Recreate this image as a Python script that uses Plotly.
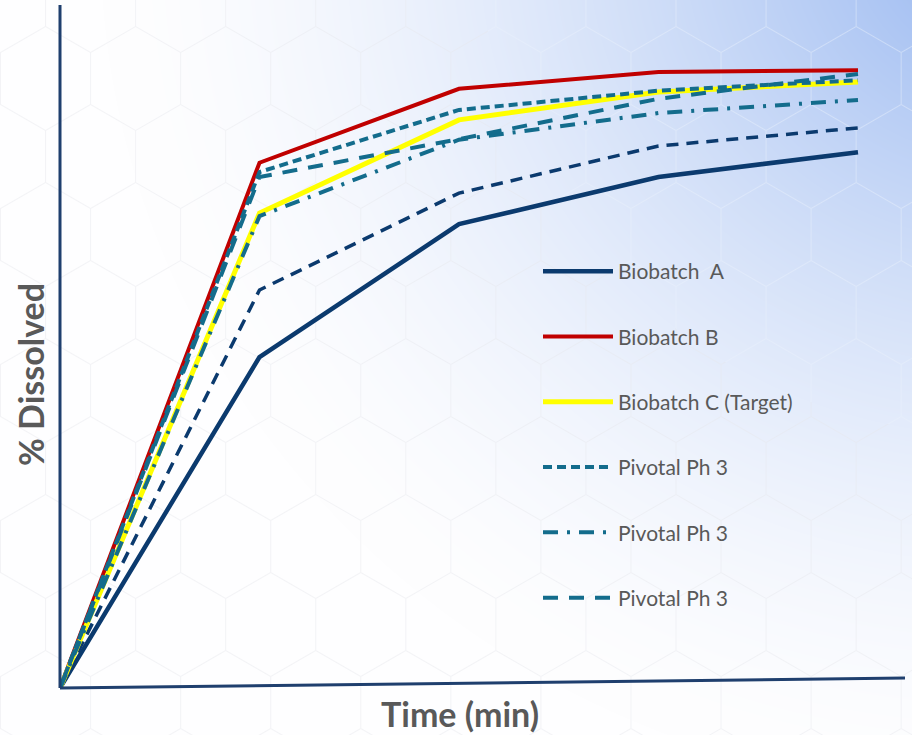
import base64, struct, zlib
import numpy as np
import plotly.graph_objects as go

# ---------------- data ----------------
time_min = [0, 15, 30, 45, 60]
biobatch_a = [0, 53.3, 74.7, 82.3, 86.3]
biobatch_b = [0, 84.6, 96.5, 99.2, 99.5]
biobatch_c = [0, 76.5, 91.5, 96.0, 97.6]
pivotal_sysdash = [0, 83.1, 93.1, 96.2, 97.9]
pivotal_dashdot = [0, 76.0, 88.3, 92.6, 94.7]
pivotal_longdash = [0, 82.3, 88.4, 94.9, 98.9]
navy_dashed = [0, 64.1, 79.7, 87.3, 90.2]

# ---------------- background image (gradient + faint hexagons) ----------------
W, H = 912, 735
yy, xx = np.mgrid[0:H, 0:W].astype(float)
cx, cy = 1000.0, -60.0
d = np.sqrt(((xx - cx) / 1.0) ** 2 + ((yy - cy) / 0.95) ** 2)
t = np.clip(1 - d / 900.0, 0, 1) ** 1.6
white = np.array([254.0, 254.0, 255.0])
blue = np.array([150.0, 182.0, 240.0])
img = white[None, None, :] * (1 - t[..., None]) + blue[None, None, :] * t[..., None]

s = 52.0
w = np.sqrt(3) * s
def nearest(ox, oy):
    i = np.round((xx - ox) / w)
    j = np.round((yy - oy) / (3 * s))
    return xx - (ox + i * w), yy - (oy + j * 3 * s)
dxa, dya = nearest(0.0, 0.0)
dxb, dyb = nearest(w / 2, 1.5 * s)
da = dxa ** 2 + dya ** 2
db = dxb ** 2 + dyb ** 2
dx = np.where(da < db, dxa, dxb)
dy = np.where(da < db, dya, dyb)
m = np.maximum(np.abs(dx), np.maximum(np.abs(0.5 * dx + dy * np.sqrt(3) / 2),
                                      np.abs(0.5 * dx - dy * np.sqrt(3) / 2)))
edge = np.clip(1 - np.abs(w / 2 - m) / 1.0, 0, 1)
hexcol = np.where(t[..., None] > 0.25, np.array([235.0, 242.0, 252.0]), np.array([230.0, 231.0, 236.0]))
alpha = edge[..., None] * 0.45
img = img * (1 - alpha) + hexcol * alpha
img = np.clip(img, 0, 255).astype(np.uint8)

def png_bytes(arr):
    h, wd, _ = arr.shape
    raw = b"".join(b"\x00" + arr[i].tobytes() for i in range(h))
    def chunk(tag, data):
        c = struct.pack(">I", len(data)) + tag + data
        return c + struct.pack(">I", zlib.crc32(tag + data) & 0xFFFFFFFF)
    return (b"\x89PNG\r\n\x1a\n"
            + chunk(b"IHDR", struct.pack(">IIBBBBB", wd, h, 8, 2, 0, 0, 0))
            + chunk(b"IDAT", zlib.compress(raw, 9))
            + chunk(b"IEND", b""))

bg_uri = "data:image/png;base64," + base64.b64encode(png_bytes(img)).decode()

# ---------------- figure ----------------
L, R, T, B = 60, 7, 5, 47
PW, PH = W - L - R, H - T - B

NAVY = "#0B3A6E"
RED = "#C00000"
YELLOW = "#FFFF00"
TEAL = "#136C8C"
AXIS = "#1F3F6E"
FONT = "Lato, Open Sans, sans-serif"

fig = go.Figure()

def add(y, name, color, dash, width, group, show=True):
    fig.add_trace(go.Scatter(
        x=time_min, y=y, name=name, mode="lines",
        line=dict(color=color, width=width, dash=dash),
        legendgroup=group, showlegend=show, hoverinfo="skip"))

add(navy_dashed, "Pivotal Ph 3", NAVY, "12px,8px", 3.5, "g0", show=False)
add(biobatch_a, "Biobatch  A", NAVY, "solid", 4.5, "g1")
add(biobatch_b, "Biobatch B", RED, "solid", 4, "g2")
add(biobatch_c, "Biobatch C (Target)", YELLOW, "solid", 5, "g3")
add(pivotal_sysdash, "Pivotal Ph 3", TEAL, "9px,5px", 4, "g4")
add(pivotal_dashdot, "Pivotal Ph 3", TEAL, "15px,9px,3px,9px", 4, "g5")
add(pivotal_longdash, "Pivotal Ph 3", TEAL, "15px,11px", 4, "g6")

fig.update_layout(
    width=W, height=H,
    margin=dict(l=L, r=R, t=T, b=B, pad=0),
    paper_bgcolor="rgba(0,0,0,0)",
    plot_bgcolor="rgba(0,0,0,0)",
    showlegend=True,
    xaxis=dict(range=[0, 60 * (905 - 60) / (858 - 60)], showgrid=False, zeroline=False,
               showticklabels=False, ticks="", showline=False, fixedrange=True),
    yaxis=dict(range=[0, 110], showgrid=False, zeroline=False,
               showticklabels=False, ticks="", showline=False, fixedrange=True),
    legend=dict(
        x=(538 - L) / PW, y=(688 - 251) / PH, xanchor="left", yanchor="top",
        bgcolor="rgba(0,0,0,0)", borderwidth=0,
        font=dict(family=FONT, size=21, color="#595959"),
        tracegroupgap=35, itemwidth=70, traceorder="grouped",
    ),
    images=[dict(source=bg_uri, xref="paper", yref="paper",
                 x=-L / PW, y=(688) / PH, sizex=W / PW, sizey=H / PH,
                 xanchor="left", yanchor="top", sizing="stretch", layer="below")],
    shapes=[
        dict(type="line", xref="paper", yref="paper", x0=0, y0=0, x1=0, y1=1,
             line=dict(color=AXIS, width=3)),
        dict(type="line", xref="paper", yref="paper", x0=0, y0=0, x1=1, y1=(688 - 678) / PH,
             line=dict(color=AXIS, width=3)),
    ],
    annotations=[
        dict(text="<b>% Dissolved</b>", xref="paper", yref="paper",
             x=(30 - L) / PW, y=(688 - 375) / PH, showarrow=False, textangle=-90,
             xanchor="center", yanchor="middle",
             font=dict(family=FONT, size=34, color="#595959")),
        dict(text="<b>Time (min)</b>", xref="paper", yref="paper",
             x=(460 - L) / PW, y=(688 - 713) / PH, showarrow=False,
             xanchor="center", yanchor="middle",
             font=dict(family=FONT, size=34, color="#595959")),
    ],
)

fig.write_html("out.html")
